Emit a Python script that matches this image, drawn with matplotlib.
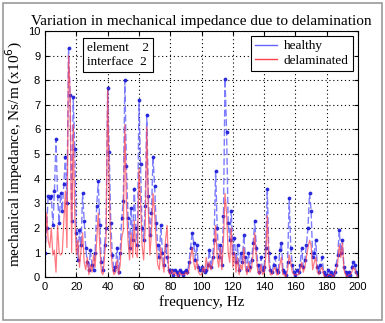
import numpy as np
import matplotlib
matplotlib.use("Agg")
import matplotlib.pyplot as plt
from matplotlib.lines import Line2D
from matplotlib.patches import Rectangle

freq = np.arange(0, 201)

healthy = [
    1.0, 2.0, 3.3, 3.2, 3.3, 2.1, 3.5, 5.6, 3.3, 2.2,
    3.4, 2.7, 3.8, 4.9, 3.0, 9.3, 7.4, 2.3, 7.3, 5.2,
    1.8, 0.7, 1.9, 1.3, 3.4, 2.3, 1.2, 0.6, 0.3, 1.1,
    0.5, 0.3, 1.0, 2.9, 3.9, 2.1, 0.6, 0.3, 1.3, 2.0,
    7.7, 5.1, 2.2, 0.9, 0.3, 0.4, 1.2, 0.2, 1.0, 2.4,
    3.1, 8.0, 4.5, 2.4, 1.2, 2.8, 1.5, 3.6, 2.0, 1.3,
    7.2, 4.6, 2.0, 1.5, 2.9, 6.6, 3.3, 1.7, 2.6, 4.9,
    3.7, 2.2, 1.3, 0.8, 2.1, 1.0, 0.5, 1.3, 0.8, 0.3,
    0.2, 0.3, 0.1, 0.3, 0.2, 0.1, 0.3, 0.2, 0.1, 0.2,
    0.3, 0.2, 0.6, 1.2, 1.8, 1.4, 0.7, 1.3, 0.4, 0.3,
    0.4, 0.3, 0.2, 0.3, 0.5, 1.1, 0.4, 0.8, 1.5, 4.3,
    2.0, 0.8, 1.3, 0.5, 2.5, 8.05, 5.9, 2.2, 1.5, 2.7,
    1.0, 1.6, 0.6, 1.3, 0.3, 1.0, 0.6, 1.7, 0.8, 0.3,
    1.0, 0.4, 0.7, 1.4, 2.3, 1.2, 0.5, 0.2, 0.8, 0.3,
    0.4, 1.2, 3.6, 1.0, 0.3, 0.2, 0.5, 0.8, 0.3, 0.2,
    1.1, 1.4, 0.3, 0.2, 0.1, 0.6, 3.2, 1.2, 0.5, 0.2,
    0.1, 0.3, 0.2, 0.5, 1.2, 0.4, 0.7, 1.3, 2.0, 3.4,
    2.7, 0.8, 1.0, 1.5, 0.4, 0.2, 0.5, 0.8, 0.2, 0.1,
    0.1, 0.3, 0.1, 0.2, 0.1, 0.2, 0.5, 0.9, 1.9, 1.0,
    1.5, 0.4, 0.2, 0.1, 0.2, 0.1, 0.4, 0.6, 0.5, 0.2, 0.1,
]

delaminated = [
    0.9, 2.6, 1.5, 1.2, 2.0, 0.9, 1.1, 0.2, 2.1, 1.0,
    0.9, 1.0, 2.3, 3.5, 1.2, 9.0, 7.5, 1.0, 6.2, 2.5,
    0.9, 1.5, 0.4, 1.1, 1.8, 0.6, 0.3, 0.8, 0.1, 0.5,
    0.2, 0.9, 0.4, 1.5, 2.6, 1.2, 0.2, 0.1, 0.8, 1.6,
    7.6, 3.6, 1.2, 0.4, 0.1, 0.2, 0.7, 0.1, 0.5, 1.6,
    1.9, 6.2, 3.0, 1.5, 0.7, 1.8, 0.8, 2.3, 1.0, 0.8,
    4.4, 3.1, 1.3, 0.7, 2.0, 6.1, 2.7, 0.9, 1.8, 3.4,
    2.6, 1.4, 0.5, 0.3, 1.2, 0.6, 0.2, 1.5, 2.1, 0.2,
    0.1, 0.3, 0.1, 0.2, 0.1, 0.0, 0.2, 0.1, 0.1, 0.1,
    0.2, 0.1, 0.3, 0.8, 1.2, 0.6, 0.3, 0.7, 0.2, 0.1,
    0.1, 0.4, 0.2, 0.8, 0.3, 0.6, 0.3, 0.5, 1.0, 2.1,
    0.8, 0.4, 1.2, 0.3, 1.5, 3.4, 2.6, 1.0, 0.6, 2.0,
    0.4, 1.0, 0.2, 0.8, 0.1, 0.5, 0.3, 1.2, 0.4, 0.1,
    0.6, 0.2, 0.4, 1.0, 1.8, 0.8, 0.2, 0.1, 0.5, 0.1,
    0.2, 0.8, 2.5, 0.6, 0.1, 0.1, 0.3, 0.4, 0.1, 0.1,
    0.5, 0.8, 0.1, 0.1, 0.0, 0.3, 0.9, 0.6, 0.2, 0.1,
    0.1, 0.1, 0.1, 0.3, 0.6, 0.2, 0.4, 0.8, 1.2, 1.5,
    1.3, 0.3, 0.6, 0.8, 0.2, 0.1, 0.3, 0.4, 0.1, 0.0,
    0.0, 0.1, 0.1, 0.1, 0.0, 0.1, 0.3, 0.6, 1.3, 0.8,
    1.4, 0.3, 0.1, 0.0, 0.1, 0.1, 0.2, 0.4, 0.3, 0.1, 0.0,
]

serif = ["Liberation Serif", "DejaVu Serif"]
plt.rcParams["font.family"] = ["Liberation Sans", "DejaVu Sans"]

fig = plt.figure(figsize=(3.85, 3.23), dpi=100)
fig.patches.append(Rectangle((0.008, 0.008), 0.984, 0.984, transform=fig.transFigure,
                             fill=False, edgecolor="#9a9a9a", linewidth=1.2))

ax = fig.add_axes([0.117, 0.142, 0.813, 0.762])

ax.plot(freq, healthy, linestyle=(0, (5, 2)), color=(0.4, 0.4, 1.0), linewidth=1.0, alpha=0.85,
        marker=".", markersize=3.5, markerfacecolor=(0.1, 0.1, 0.85), markeredgecolor=(0.1, 0.1, 0.85))
ax.plot(freq, delaminated, "-", color=(1.0, 0.25, 0.3), linewidth=0.9, alpha=0.7)

ax.set_xlim(0, 200)
ax.set_ylim(0, 10)
ax.set_xticks(np.arange(0, 201, 20))
ax.set_yticks(np.arange(0, 11, 1))
ax.tick_params(direction="in", labelsize=8, length=3, top=True, right=True)
ax.grid(True, color="black", linestyle=(0, (1, 2.5)), linewidth=0.8)
for s in ax.spines.values():
    s.set_linewidth(0.8)

ax.set_title("Variation in mechanical impedance due to delamination",
             family=serif, fontsize=11, pad=4)
ax.set_xlabel("frequency, Hz", family=serif, fontsize=11, labelpad=2)
ax.set_ylabel("mechanical impedance, Ns/m (x10$^6$)", family=serif, fontsize=11, labelpad=2)

ax.text(0.135, 0.955, "element    2\ninterface  2", transform=ax.transAxes, va="top", ha="left",
        family=serif, fontsize=9.5, linespacing=1.25,
        bbox=dict(boxstyle="square,pad=0.3", facecolor="white", edgecolor="black", linewidth=0.8))

handles = [Line2D([], [], color=(0.4, 0.4, 1.0), linewidth=1.0),
           Line2D([], [], color=(1.0, 0.25, 0.3), linewidth=1.0)]
leg = ax.legend(handles, ["healthy", "delaminated"], loc="upper right", fancybox=False,
                framealpha=1, edgecolor="black", prop={"family": serif, "size": 9.5},
                handlelength=1.7, handletextpad=0.5, borderpad=0.3, labelspacing=0.15,
                borderaxespad=0.4)
leg.get_frame().set_linewidth(0.8)

fig.savefig("out.png", dpi=100)
